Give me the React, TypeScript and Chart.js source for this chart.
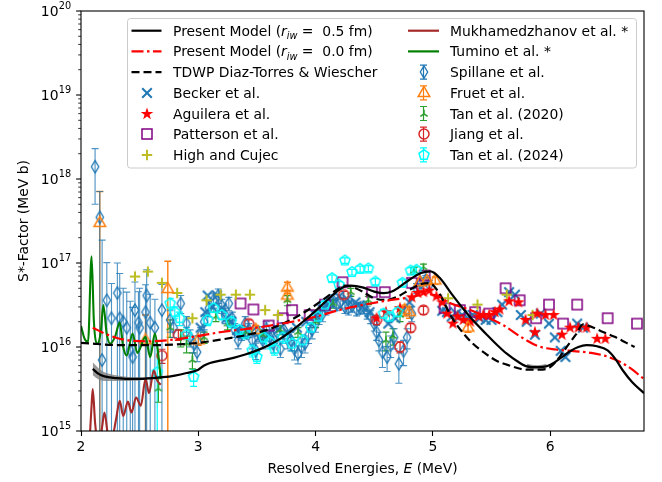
import React, { useEffect, useRef } from 'react';
import { Chart, registerables } from 'chart.js';
Chart.register(...registerables);

const FONT = "'DejaVu Sans', sans-serif";
const FS = 13.9;
const BLUE = '#1f77b4';
const ORANGE = '#ff7f0e';
const GREEN2 = '#2ca02c';
const RED2 = '#d62728';

// ---------- axis ticks ----------
const X_TICKS = [2, 3, 4, 5, 6];
const Y_MAJOR = [1e15, 1e16, 1e17, 1e18, 1e19, 1e20];
const Y_EXP = ['15', '16', '17', '18', '19', '20'];

// ---------- model curves ----------
const PM05_E = [2.10, 2.15, 2.20, 2.30, 2.40, 2.50, 2.60, 2.70, 2.80, 2.90, 3.00, 3.05, 3.10, 3.20, 3.30, 3.40, 3.50, 3.60, 3.70, 3.80, 3.90, 4.00, 4.10, 4.20, 4.25, 4.30, 4.40, 4.50, 4.58, 4.65, 4.70, 4.80, 4.90, 4.98, 5.06, 5.15, 5.25, 5.34, 5.45, 5.55, 5.63, 5.72, 5.80, 5.90, 5.97, 6.03, 6.10, 6.17, 6.24, 6.31, 6.40, 6.49, 6.56, 6.62, 6.70, 6.80];
const PM05_S = [5.50e15, 4.79e15, 4.47e15, 4.27e15, 4.17e15, 4.17e15, 4.27e15, 4.37e15, 4.57e15, 4.90e15, 5.37e15, 6.03e15, 6.46e15, 6.92e15, 7.41e15, 8.13e15, 9.12e15, 1.05e16, 1.26e16, 1.58e16, 2.04e16, 2.69e16, 3.63e16, 4.79e16, 5.25e16, 5.37e16, 5.13e16, 4.57e16, 4.37e16, 4.57e16, 5.01e16, 6.31e16, 7.59e16, 7.94e16, 6.61e16, 4.47e16, 2.95e16, 2.09e16, 1.45e16, 1.05e16, 8.32e15, 6.76e15, 5.89e15, 5.75e15, 5.89e15, 6.46e15, 7.59e15, 8.91e15, 1.00e16, 1.05e16, 1.02e16, 9.12e15, 7.08e15, 5.25e15, 3.80e15, 2.82e15];

const PM00_E = [2.10, 2.20, 2.30, 2.40, 2.60, 2.80, 3.00, 3.20, 3.50, 3.80, 4.00, 4.20, 4.40, 4.60, 4.80, 4.95, 5.05, 5.15, 5.30, 5.45, 5.60, 5.75, 5.90, 6.05, 6.20, 6.35, 6.50, 6.65, 6.80];
const PM00_S = [1.70e16, 1.45e16, 1.29e16, 1.20e16, 1.17e16, 1.23e16, 1.35e16, 1.51e16, 1.70e16, 2.00e16, 2.29e16, 2.75e16, 3.16e16, 3.55e16, 3.89e16, 4.27e16, 3.98e16, 3.31e16, 2.82e16, 2.29e16, 1.82e16, 1.32e16, 1.02e16, 9.33e15, 8.91e15, 8.51e15, 7.59e15, 6.03e15, 4.17e15];

const TDWP_E = [2.00, 2.10, 2.20, 2.40, 2.60, 2.80, 3.00, 3.20, 3.40, 3.60, 3.80, 3.90, 4.00, 4.10, 4.20, 4.25, 4.30, 4.40, 4.50, 4.60, 4.70, 4.80, 4.90, 4.97, 5.05, 5.15, 5.25, 5.34, 5.45, 5.55, 5.63, 5.72, 5.80, 5.90, 6.00, 6.08, 6.14, 6.22, 6.28, 6.35, 6.45, 6.55, 6.65, 6.72];
const TDWP_S = [1.12e16, 1.10e16, 1.07e16, 1.05e16, 1.05e16, 1.07e16, 1.12e16, 1.23e16, 1.38e16, 1.62e16, 2.14e16, 2.57e16, 3.16e16, 3.98e16, 5.01e16, 5.37e16, 5.25e16, 4.57e16, 3.80e16, 3.63e16, 3.98e16, 4.79e16, 5.62e16, 5.75e16, 4.47e16, 2.40e16, 1.51e16, 1.10e16, 8.32e15, 6.76e15, 6.17e15, 5.62e15, 5.37e15, 5.37e15, 5.75e15, 7.59e15, 1.00e16, 1.41e16, 1.86e16, 1.74e16, 1.51e16, 1.32e16, 1.12e16, 1.00e16];

const MUK_E = [2.07, 2.09, 2.10, 2.12, 2.15, 2.18, 2.20, 2.23, 2.26, 2.30, 2.33, 2.36, 2.40, 2.43, 2.47, 2.51, 2.55, 2.58, 2.62, 2.65, 2.68];
const MUK_S = [6.3e14, 2.0e15, 3.16e15, 1.26e15, 6.3e14, 1.12e15, 1.66e15, 8.9e14, 7.9e14, 1.41e15, 2.29e15, 1.51e15, 2.24e15, 1.66e15, 2.51e15, 2.0e15, 4.17e15, 2.82e15, 5.25e15, 3.98e15, 3.55e15];

const TUM_E = [2.00, 2.03, 2.06, 2.09, 2.11, 2.14, 2.17, 2.19, 2.22, 2.25, 2.29, 2.33, 2.36, 2.39, 2.44, 2.48, 2.55, 2.59, 2.63, 2.66, 2.68];
const TUM_S = [1.78e16, 1.26e16, 1.15e16, 1.20e17, 2.00e16, 1.10e16, 1.58e16, 3.16e16, 1.41e16, 1.10e16, 1.32e16, 1.95e16, 1.00e16, 7.94e15, 1.45e16, 8.51e15, 1.32e16, 7.59e15, 1.45e16, 7.94e15, 4.17e15];

// uncertainty bands of the present model
const BAND1_E = [2.10, 2.15, 2.20, 2.30, 2.40, 2.50, 2.60];
const BAND1_HI = [6.6e15, 5.6e15, 5.0e15, 4.6e15, 4.4e15, 4.35e15, 4.4e15];
const BAND1_LO = [4.6e15, 4.1e15, 3.95e15, 3.95e15, 3.95e15, 4.0e15, 4.15e15];
const BAND2_E = [5.80, 5.86, 5.92, 5.97];
const BAND2_HI = [6.3e15, 6.1e15, 6.1e15, 6.3e15];
const BAND2_LO = [5.5e15, 5.4e15, 5.4e15, 5.55e15];

// ---------- experimental data ----------
const SP_E = [2.12, 2.16, 2.18, 2.22, 2.26, 2.31, 2.33, 2.36, 2.39, 2.42, 2.44, 2.46, 2.49, 2.50, 2.55, 2.56, 2.59, 2.63, 2.69,
  2.76, 2.79, 2.85, 2.90, 2.93, 2.96, 2.99, 3.02, 3.05, 3.09, 3.13, 3.17, 3.20, 3.23, 3.26, 3.29, 3.31, 3.34, 3.37, 3.40, 3.43, 3.46, 3.49, 3.52, 3.55, 3.58, 3.61, 3.64, 3.67, 3.70, 3.73, 3.76, 3.79, 3.82, 3.85, 3.88, 3.91, 3.94, 3.97, 4.00, 4.03, 4.06, 4.09, 4.12, 4.15, 4.18, 4.21, 4.25, 4.28, 4.31, 4.35, 4.38, 4.41, 4.44, 4.47, 4.50, 4.52, 4.54, 4.57, 4.61, 4.64, 4.67, 4.71, 4.75, 4.78, 4.82, 4.86, 4.90, 4.94, 4.97];
const SP_S = [1.4e18, 3.5e17, 7.0e15, 3.6e16, 2.2e16, 4.4e16, 2.2e16, 2.0e16, 1.7e16, 9.1e15, 7.6e15, 2.75e16, 1.95e16, 1.7e16, 2.6e16, 4.1e16, 1.95e16, 1.7e16, 2.75e16,
  2.1e16, 1.7e16, 3.3e16, 1.9e16, 1.3e16, 1.1e16, 8.7e15, 1.4e16, 2.0e16, 2.9e16, 3.6e16, 4.1e16, 3.1e16, 2.4e16, 3.3e16, 2.2e16, 1.6e16, 1.2e16, 1.5e16, 1.9e16, 1.6e16, 1.2e16, 9.1e15, 1.45e16, 1.2e16, 1.65e16, 1.3e16, 1.1e16, 1.5e16, 9.5e15, 1.6e16, 1.25e16, 1.2e16, 9.5e15, 8.3e15, 1.0e16, 1.1e16, 1.4e16, 1.6e16, 1.9e16, 2.3e16, 2.5e16, 2.9e16, 3.3e16, 3.6e16, 3.2e16, 3.4e16, 3.0e16, 2.9e16, 3.1e16, 2.8e16, 2.9e16, 3.0e16, 2.6e16, 2.3e16, 1.9e16, 1.5e16, 1.2e16, 8.7e15, 7.6e15, 1.05e16, 1.3e16, 6.3e15, 9.0e15, 1.3e16, 2.5e16, 5.0e16, 5.8e16, 6.3e16, 5.5e16];
const SP_ERR = [9e17, 3.6e17, 1.8e17, 6.5e16, 3.5e16, 5.6e16, 5.3e16, 3.0e16, 2.8e16, 2.6e16, 2.2e16, 3.2e16, 2.6e16, 3.3e16, 2.9e16, 4.2e16, 2.3e16, 2.0e16, 2.8e16,
  6e15, 4e15, 8e15, 4e15, 3e15, 2.5e15, 2e15, 3e15, 4e15, 6e15, 7e15, 8e15, 6e15, 5e15, 6e15, 4e15, 3e15, 2.5e15, 3e15, 4e15, 3e15, 2.5e15, 2e15, 3e15, 2.5e15, 3.5e15, 3e15, 2.5e15, 3e15, 2e15, 3.5e15, 3e15, 3e15, 2.5e15, 2e15, 2.5e15, 2.5e15, 3e15, 3.5e15, 4e15, 4.5e15, 5e15, 5e15, 6e15, 6e15, 5e15, 5e15, 5e15, 5e15, 5e15, 4.5e15, 4.5e15, 5e15, 4.5e15, 4e15, 3.5e15, 3e15, 3e15, 3e15, 2.5e15, 3e15, 3.5e15, 2.6e15, 3e15, 3.5e15, 5e15, 7e15, 8e15, 8e15, 7e15];

const BE_E = [3.02, 3.06, 3.08, 3.12, 3.16, 3.20, 3.24, 3.28, 3.33, 3.38, 3.45, 3.52, 3.60, 3.68, 3.76, 3.84, 3.92, 4.00, 4.06, 4.12, 4.20, 4.27, 4.34, 4.40, 4.46, 4.62, 4.68, 4.74, 4.80, 5.08, 5.12, 5.16, 5.20, 5.25, 5.30, 5.34, 5.40, 5.45, 5.50, 5.55, 5.59, 5.65, 5.70, 5.75, 5.80, 5.87, 5.92, 5.99, 6.04, 6.09, 6.13, 6.23, 6.28];
const BE_S = [1.7e16, 2.6e16, 4.1e16, 3.0e16, 4.1e16, 2.9e16, 2.2e16, 2.0e16, 1.6e16, 1.4e16, 1.5e16, 1.3e16, 1.4e16, 1.6e16, 1.5e16, 1.7e16, 2.0e16, 2.4e16, 2.8e16, 3.4e16, 4.0e16, 3.7e16, 3.4e16, 3.0e16, 2.6e16, 1.9e16, 2.2e16, 2.7e16, 3.4e16, 2.7e16, 2.6e16, 2.3e16, 2.5e16, 2.4e16, 2.2e16, 2.4e16, 2.2e16, 2.1e16, 2.1e16, 2.6e16, 3.2e16, 4.5e16, 4.2e16, 2.4e16, 2.0e16, 1.4e16, 2.5e16, 1.9e16, 1.3e16, 9.0e15, 7.6e15, 1.9e16, 1.7e16];

const AG_E = [4.52, 4.60, 4.72, 4.82, 4.87, 4.92, 4.97, 5.03, 5.08, 5.12, 5.17, 5.21, 5.26, 5.32, 5.39, 5.43, 5.48, 5.53, 5.57, 5.65, 5.73, 5.79, 5.87, 5.89, 5.96, 6.03, 6.10, 6.17, 6.24, 6.31, 6.40, 6.47];
const AG_S = [2.2e16, 2.6e16, 2.9e16, 3.9e16, 4.4e16, 4.5e16, 4.7e16, 4.0e16, 3.4e16, 2.5e16, 1.9e16, 2.3e16, 2.1e16, 2.0e16, 2.3e16, 2.4e16, 2.4e16, 2.6e16, 2.8e16, 3.5e16, 3.4e16, 2.1e16, 1.5e16, 2.5e16, 2.4e16, 2.4e16, 1.4e16, 1.7e16, 1.7e16, 1.7e16, 1.25e16, 1.25e16];

const PA_E = [3.36, 3.47, 3.60, 3.72, 3.80, 3.95, 4.08, 4.23, 4.48, 4.59, 4.82, 4.93, 5.10, 5.23, 5.36, 5.48, 5.62, 5.74, 5.88, 5.99, 6.11, 6.23, 6.49, 6.74];
const PA_S = [3.3e16, 2.8e16, 1.8e16, 2.2e16, 2.75e16, 2.4e16, 3.2e16, 5.9e16, 4.5e16, 4.5e16, 5.8e16, 7.1e16, 2.9e16, 2.75e16, 2.6e16, 2.5e16, 5.0e16, 3.6e16, 2.2e16, 3.2e16, 1.9e16, 3.2e16, 2.2e16, 1.9e16];

const HC_E = [2.46, 2.57, 2.69, 2.82, 2.95, 3.07, 3.19, 3.32, 3.44, 3.57, 3.68, 5.13, 5.38, 5.63, 5.85];
const HC_S = [6.9e16, 7.9e16, 5.8e16, 4.4e16, 2.2e16, 3.6e16, 4.2e16, 4.2e16, 4.2e16, 2.75e16, 2.4e16, 3.8e16, 3.2e16, 4.2e16, 2.4e16];

const FR_E = [2.16, 2.55, 2.74, 3.00, 3.49, 3.76, 3.76, 4.76, 4.80, 4.89, 4.95, 5.02, 5.30];
const FR_S = [3.0e17, 1.2e16, 4.9e16, 1.2e16, 1.6e16, 5.1e16, 4.1e16, 2.75e16, 2.6e16, 5.9e16, 6.1e16, 6.2e16, 1.7e16];
const FR_ERR = [4.1e17, 1.2e16, 5.6e16, 1.5e15, 2e15, 8e15, 6e15, 4e15, 4e15, 6e15, 6e15, 6e15, 2e15];

const T20_E = [2.66, 2.76, 2.85, 2.90, 2.95, 3.05, 3.15, 3.25, 3.40, 3.55, 3.70, 3.76, 3.85, 4.00, 4.15, 4.30, 4.45, 4.60, 4.66, 4.72, 4.84, 4.92];
const T20_S = [3.2e15, 1.7e16, 1.3e16, 1.1e16, 7.0e15, 1.3e16, 2.3e16, 1.9e16, 1.5e16, 1.4e16, 1.6e16, 3.6e16, 1.5e16, 2.0e16, 3.3e16, 4.5e16, 3.6e16, 1.2e16, 1.35e16, 2.4e16, 8.1e16, 8.9e16];
const T20_ERR = [1e15, 4e15, 3e15, 2.5e15, 1.5e15, 2e15, 3e15, 3e15, 2e15, 2e15, 2e15, 5e15, 2e15, 3e15, 4e15, 5e15, 4e15, 3e15, 3e15, 4e15, 8e15, 8e15];

const JI_E = [2.69, 2.83, 3.43, 4.24, 4.52, 4.72, 4.81, 4.92];
const JI_S = [7.9e15, 1.4e16, 1.9e16, 4.2e16, 2.1e16, 1.0e16, 1.7e16, 2.75e16];
const JI_ERR = [1.5e15, 2e15, 2e15, 4e15, 2.5e15, 1.5e15, 2e15, 3e15];

const T24_E = [2.65, 2.76, 2.80, 2.84, 2.90, 2.96, 3.08, 3.13, 3.20, 3.28, 3.35, 3.40, 3.46, 3.50, 3.56, 3.61, 3.65, 3.72, 3.80, 3.89, 3.96, 4.02, 4.08, 4.14, 4.20, 4.25, 4.31, 4.38, 4.45, 4.51, 4.58, 4.63, 4.70, 4.74, 4.81, 4.86];
const T24_S = [5.0e15, 3.3e16, 2.6e16, 2.2e16, 1.4e16, 4.4e15, 2.1e16, 2.9e16, 2.4e16, 2.0e16, 1.6e16, 1.45e16, 9.1e15, 7.6e15, 1.3e16, 1.15e16, 9.5e15, 1.3e16, 1.1e16, 1.2e16, 1.7e16, 2.3e16, 3.2e16, 6.6e16, 5.5e16, 1.07e17, 7.8e16, 8.5e16, 8.6e16, 6.0e16, 2.5e16, 2.3e16, 2.6e16, 5.8e16, 8.1e16, 8.3e16];
const T24_ERR = [5.5e15, 5e15, 4e15, 4e15, 3e15, 1e15, 3e15, 3e15, 3e15, 3e15, 2e15, 2e15, 1.5e15, 1.2e15, 2e15, 2e15, 1.5e15, 2e15, 2e15, 2e15, 2e15, 3e15, 3e15, 6e15, 5e15, 8e15, 6e15, 7e15, 7e15, 5e15, 3e15, 3e15, 3e15, 5e15, 7e15, 7e15];

// ---------- legend text ----------
type Part = { t: string; it?: boolean; sub?: boolean };
const LBL_PM05: Part[] = [{ t: 'Present Model (' }, { t: 'r', it: true }, { t: 'iw', it: true, sub: true }, { t: ' =  0.5 fm)' }];
const LBL_PM00: Part[] = [{ t: 'Present Model (' }, { t: 'r', it: true }, { t: 'iw', it: true, sub: true }, { t: ' =  0.0 fm)' }];

const DASH_TDWP = [8, 4];
const DASH_PM00 = [12, 3.5, 2.5, 3.5];

function makeMarkers() {
  const mk = (size: number, draw: (c: CanvasRenderingContext2D) => void) => {
    const cv = document.createElement('canvas');
    cv.width = size; cv.height = size;
    const c = cv.getContext('2d')!;
    c.translate(size / 2, size / 2);
    draw(c);
    return cv;
  };
  const poly = (c: CanvasRenderingContext2D, p: number[][]) => {
    c.beginPath();
    p.forEach(([x, y], i) => (i ? c.lineTo(x, y) : c.moveTo(x, y)));
    c.closePath();
  };
  return {
    becker: mk(14, (c) => { c.strokeStyle = BLUE; c.lineWidth = 2; c.beginPath(); c.moveTo(-4.8, -4.8); c.lineTo(4.8, 4.8); c.moveTo(-4.8, 4.8); c.lineTo(4.8, -4.8); c.stroke(); }),
    star: mk(16, (c) => {
      const p: number[][] = [];
      for (let i = 0; i < 10; i++) { const r = i % 2 ? 2.6 : 6.6; const a = -Math.PI / 2 + (i * Math.PI) / 5; p.push([r * Math.cos(a), r * Math.sin(a)]); }
      poly(c, p); c.fillStyle = '#ff0000'; c.fill();
    }),
    square: mk(14, (c) => { c.strokeStyle = '#800080'; c.lineWidth = 1.5; c.strokeRect(-5, -5, 10, 10); }),
    plus: mk(14, (c) => { c.strokeStyle = '#bcbd22'; c.lineWidth = 2; c.beginPath(); c.moveTo(-5.2, 0); c.lineTo(5.2, 0); c.moveTo(0, -5.2); c.lineTo(0, 5.2); c.stroke(); }),
    diamond: mk(16, (c) => { poly(c, [[0, -6.2], [3.7, 0], [0, 6.2], [-3.7, 0]]); c.strokeStyle = BLUE; c.lineWidth = 1.3; c.stroke(); }),
    tri: mk(16, (c) => { poly(c, [[0, -6.5], [5.8, 3.6], [-5.8, 3.6]]); c.strokeStyle = ORANGE; c.lineWidth = 1.5; c.stroke(); }),
    tri2: mk(12, (c) => { c.strokeStyle = GREEN2; c.lineWidth = 1.5; c.beginPath(); c.moveTo(0, 0); c.lineTo(0, -4.2); c.moveTo(0, 0); c.lineTo(-3.7, 2.3); c.moveTo(0, 0); c.lineTo(3.7, 2.3); c.stroke(); }),
    circle: mk(14, (c) => { c.beginPath(); c.arc(0, 0, 5, 0, Math.PI * 2); c.strokeStyle = RED2; c.lineWidth = 1.5; c.stroke(); }),
    pent: mk(14, (c) => {
      const p: number[][] = [];
      for (let i = 0; i < 5; i++) { const a = -Math.PI / 2 + (i * 2 * Math.PI) / 5; p.push([5.3 * Math.cos(a), 5.3 * Math.sin(a)]); }
      poly(c, p); c.strokeStyle = '#00ffff'; c.lineWidth = 1.5; c.stroke();
    }),
  };
}

const pts = (xs: number[], ys: number[]) => xs.map((x, i) => ({ x, y: ys[i] }));

export default function App() {
  const ref = useRef<HTMLCanvasElement>(null);
  useEffect(() => {
    document.body.style.margin = '0';
    Chart.defaults.font.family = FONT;
    Chart.defaults.font.size = FS;
    Chart.defaults.color = '#000';
    const M = makeMarkers();

    const curve = (label: string, xs: number[], ys: number[], color: string, width: number, dash: number[] = []) => ({
      label, data: pts(xs, ys), showLine: true, borderColor: color, borderWidth: width, borderDash: dash,
      pointRadius: 0, cubicInterpolationMode: 'monotone', fill: false,
    });
    const scat = (label: string, xs: number[], ys: number[], style: any, err?: number[], errColor?: string, errWidth = 1.2) => ({
      label, data: pts(xs, ys), showLine: false, pointStyle: style, pointRadius: 5, pointHoverRadius: 5,
      yErr: err, errColor, errWidth,
    });
    const band = (xs: number[], ys: number[], fill: any) => ({
      label: 'band', data: pts(xs, ys), showLine: true, borderWidth: 0, borderColor: 'rgba(0,0,0,0)',
      backgroundColor: 'rgba(128,128,128,0.8)', pointRadius: 0, fill, tension: 0.3,
    });

    const datasets: any[] = [
      curve('Present Model 0.5', PM05_E, PM05_S, '#000000', 2.2),
      curve('Present Model 0.0', PM00_E, PM00_S, '#ff0000', 2.2, DASH_PM00),
      curve('TDWP', TDWP_E, TDWP_S, '#000000', 2.2, DASH_TDWP),
      curve('Mukhamedzhanov', MUK_E, MUK_S, '#a52a2a', 2.1),
      curve('Tumino', TUM_E, TUM_S, '#008000', 2.1),
      band(BAND1_E, BAND1_HI, false),
      band(BAND1_E, BAND1_LO, '-1'),
      band(BAND2_E, BAND2_HI, false),
      band(BAND2_E, BAND2_LO, '-1'),
      scat('Tan 2024', T24_E, T24_S, M.pent, T24_ERR, '#00ffff'),
      scat('Jiang', JI_E, JI_S, M.circle, JI_ERR, RED2),
      scat('Tan 2020', T20_E, T20_S, M.tri2, T20_ERR, GREEN2),
      scat('Fruet', FR_E, FR_S, M.tri, FR_ERR, ORANGE, 1.4),
      scat('Aguilera', AG_E, AG_S, M.star),
      scat('High', HC_E, HC_S, M.plus),
      scat('Patterson', PA_E, PA_S, M.square),
      scat('Becker', BE_E, BE_S, M.becker),
      scat('Spillane', SP_E, SP_S, M.diamond, SP_ERR, 'rgba(31,119,180,0.8)', 1.1),
    ];

    const errPlugin = {
      id: 'errbars',
      beforeDatasetsDraw(chart: any) {
        const { ctx, chartArea: a, scales } = chart;
        const xs = scales.x, ys = scales.y;
        ctx.save();
        ctx.beginPath(); ctx.rect(a.left, a.top, a.right - a.left, a.bottom - a.top); ctx.clip();
        chart.data.datasets.forEach((ds: any) => {
          if (!ds.yErr) return;
          ctx.strokeStyle = ds.errColor; ctx.lineWidth = ds.errWidth; ctx.setLineDash([]);
          ds.data.forEach((p: any, i: number) => {
            const e = ds.yErr[i];
            const px = xs.getPixelForValue(p.x);
            const hi = ys.getPixelForValue(p.y + e);
            const loV = p.y - e;
            const lo = loV > 0 ? ys.getPixelForValue(loV) : a.bottom + 20;
            ctx.beginPath();
            ctx.moveTo(px, lo); ctx.lineTo(px, hi);
            ctx.moveTo(px - 3.5, hi); ctx.lineTo(px + 3.5, hi);
            if (loV > 0) { ctx.moveTo(px - 3.5, lo); ctx.lineTo(px + 3.5, lo); }
            ctx.stroke();
          });
        });
        ctx.restore();
      },
    };

    const rich = (ctx: CanvasRenderingContext2D, x: number, y: number, parts: Part[], measureOnly = false) => {
      let cx = x;
      for (const p of parts) {
        const size = p.sub ? FS * 0.7 : FS;
        ctx.font = `${p.it ? 'italic ' : ''}${size}px ${FONT}`;
        if (!measureOnly) ctx.fillText(p.t, cx, y + (p.sub ? 3.2 : 0));
        cx += ctx.measureText(p.t).width;
      }
      return cx - x;
    };

    const decorPlugin = {
      id: 'decor',
      afterDraw(chart: any) {
        const { ctx, chartArea: a, scales } = chart;
        const ys = scales.y;
        ctx.save();
        ctx.setLineDash([]);
        // frame
        ctx.strokeStyle = '#000'; ctx.lineWidth = 1.1;
        ctx.strokeRect(a.left, a.top, a.right - a.left, a.bottom - a.top);
        // y ticks (major + minor)
        for (let n = 15; n < 20; n++) {
          for (let k = 1; k <= 9; k++) {
            const py = ys.getPixelForValue(k * Math.pow(10, n));
            const len = k === 1 ? 4.9 : 2.8;
            ctx.lineWidth = k === 1 ? 1.1 : 0.8;
            ctx.beginPath(); ctx.moveTo(a.left, py); ctx.lineTo(a.left - len, py); ctx.stroke();
          }
        }
        ctx.lineWidth = 1.1;
        ctx.beginPath(); ctx.moveTo(a.left, a.top); ctx.lineTo(a.left - 4.9, a.top); ctx.stroke();
        // y tick labels
        ctx.fillStyle = '#000';
        ctx.textBaseline = 'alphabetic';
        Y_MAJOR.forEach((v, i) => {
          const py = ys.getPixelForValue(v);
          ctx.font = `${FS * 0.7}px ${FONT}`;
          const ew = ctx.measureText(Y_EXP[i]).width;
          const ex = a.left - 9.8 - ew;
          ctx.textAlign = 'left';
          ctx.fillText(Y_EXP[i], ex, py + 5 - 7.2);
          ctx.font = `${FS}px ${FONT}`;
          ctx.textAlign = 'right';
          ctx.fillText('10', ex - 0.3, py + 5);
        });
        // axis titles
        ctx.textAlign = 'left';
        const xt: Part[] = [{ t: 'Resolved Energies, ' }, { t: 'E', it: true }, { t: ' (MeV)' }];
        const w = rich(ctx, 0, 0, xt, true);
        rich(ctx, (a.left + a.right) / 2 - w / 2, 473, xt);
        ctx.save();
        ctx.translate(27.5, (a.top + a.bottom) / 2);
        ctx.rotate(-Math.PI / 2);
        ctx.font = `${FS}px ${FONT}`;
        ctx.textAlign = 'center';
        ctx.fillText('S*-Factor (MeV b)', 0, 0);
        ctx.restore();

        // legend
        ctx.beginPath();
        (ctx as any).roundRect(127.5, 18.5, 509, 149.5, 3);
        ctx.fillStyle = 'rgba(255,255,255,0.8)'; ctx.fill();
        ctx.strokeStyle = '#cccccc'; ctx.lineWidth = 1; ctx.stroke();
        const rowY = (i: number) => 30.7 + i * 20.7;
        const L = { s0: 131.5, s1: 161.5, m: 146.5, t: 173 };
        const R = { s0: 408, s1: 439, m: 423.5, t: 450 };
        const line = (col: any, i: number, color: string, dash: number[]) => {
          ctx.strokeStyle = color; ctx.lineWidth = 2.2; ctx.setLineDash(dash);
          ctx.beginPath(); ctx.moveTo(col.s0, rowY(i)); ctx.lineTo(col.s1, rowY(i)); ctx.stroke();
          ctx.setLineDash([]);
        };
        const mark = (col: any, i: number, cv: HTMLCanvasElement, errColor?: string) => {
          const y = rowY(i);
          if (errColor) {
            ctx.strokeStyle = errColor; ctx.lineWidth = 1.2;
            ctx.beginPath();
            ctx.moveTo(col.m, y - 7); ctx.lineTo(col.m, y + 7);
            ctx.moveTo(col.m - 3.5, y - 7); ctx.lineTo(col.m + 3.5, y - 7);
            ctx.moveTo(col.m - 3.5, y + 7); ctx.lineTo(col.m + 3.5, y + 7);
            ctx.stroke();
          }
          ctx.drawImage(cv, Math.round(col.m - cv.width / 2), Math.round(y - cv.height / 2));
        };
        const text = (col: any, i: number, parts: Part[]) => { ctx.fillStyle = '#000'; ctx.textAlign = 'left'; rich(ctx, col.t, rowY(i) + 5, parts); };

        line(L, 0, '#000', []); text(L, 0, LBL_PM05);
        line(L, 1, '#ff0000', DASH_PM00); text(L, 1, LBL_PM00);
        line(L, 2, '#000', DASH_TDWP); text(L, 2, [{ t: 'TDWP Diaz-Torres & Wiescher' }]);
        mark(L, 3, M.becker); text(L, 3, [{ t: 'Becker et al.' }]);
        mark(L, 4, M.star); text(L, 4, [{ t: 'Aguilera et al.' }]);
        mark(L, 5, M.square); text(L, 5, [{ t: 'Patterson et al.' }]);
        mark(L, 6, M.plus); text(L, 6, [{ t: 'High and Cujec' }]);
        line(R, 0, '#a52a2a', []); text(R, 0, [{ t: 'Mukhamedzhanov et al. *' }]);
        line(R, 1, '#008000', []); text(R, 1, [{ t: 'Tumino et al. *' }]);
        mark(R, 2, M.diamond, BLUE); text(R, 2, [{ t: 'Spillane et al.' }]);
        mark(R, 3, M.tri, ORANGE); text(R, 3, [{ t: 'Fruet et al.' }]);
        mark(R, 4, M.tri2, GREEN2); text(R, 4, [{ t: 'Tan et al. (2020)' }]);
        mark(R, 5, M.circle, RED2); text(R, 5, [{ t: 'Jiang et al.' }]);
        mark(R, 6, M.pent, '#00ffff'); text(R, 6, [{ t: 'Tan et al. (2024)' }]);
        ctx.restore();
      },
    };

    const chart = new Chart(ref.current!, {
      type: 'scatter',
      data: { datasets },
      options: {
        animation: false,
        responsive: false,
        devicePixelRatio: 1,
        events: [],
        layout: { padding: { top: 11, right: 18, left: 0, bottom: 0 } },
        plugins: { legend: { display: false }, tooltip: { enabled: false } },
        scales: {
          x: {
            type: 'linear', min: 2, max: 6.8,
            afterBuildTicks: (s: any) => { s.ticks = X_TICKS.map((v) => ({ value: v })); },
            afterFit: (s: any) => { s.height = 51; },
            ticks: { font: { family: FONT, size: FS }, color: '#000', padding: 3, maxRotation: 0, autoSkip: false, callback: (v: any) => String(v) },
            grid: { display: true, drawOnChartArea: false, drawTicks: true, tickLength: 5, tickColor: '#000', tickWidth: 1.1 },
            border: { display: false },
          },
          y: {
            type: 'logarithmic', min: 1e15, max: 1e20,
            afterFit: (s: any) => { s.width = 81; },
            ticks: { display: false },
            grid: { display: false },
            border: { display: false },
          },
        },
      } as any,
      plugins: [errPlugin, decorPlugin],
    } as any);
    return () => chart.destroy();
  }, []);
  return <canvas ref={ref} width={662} height={482} style={{ display: 'block' }} />;
}
